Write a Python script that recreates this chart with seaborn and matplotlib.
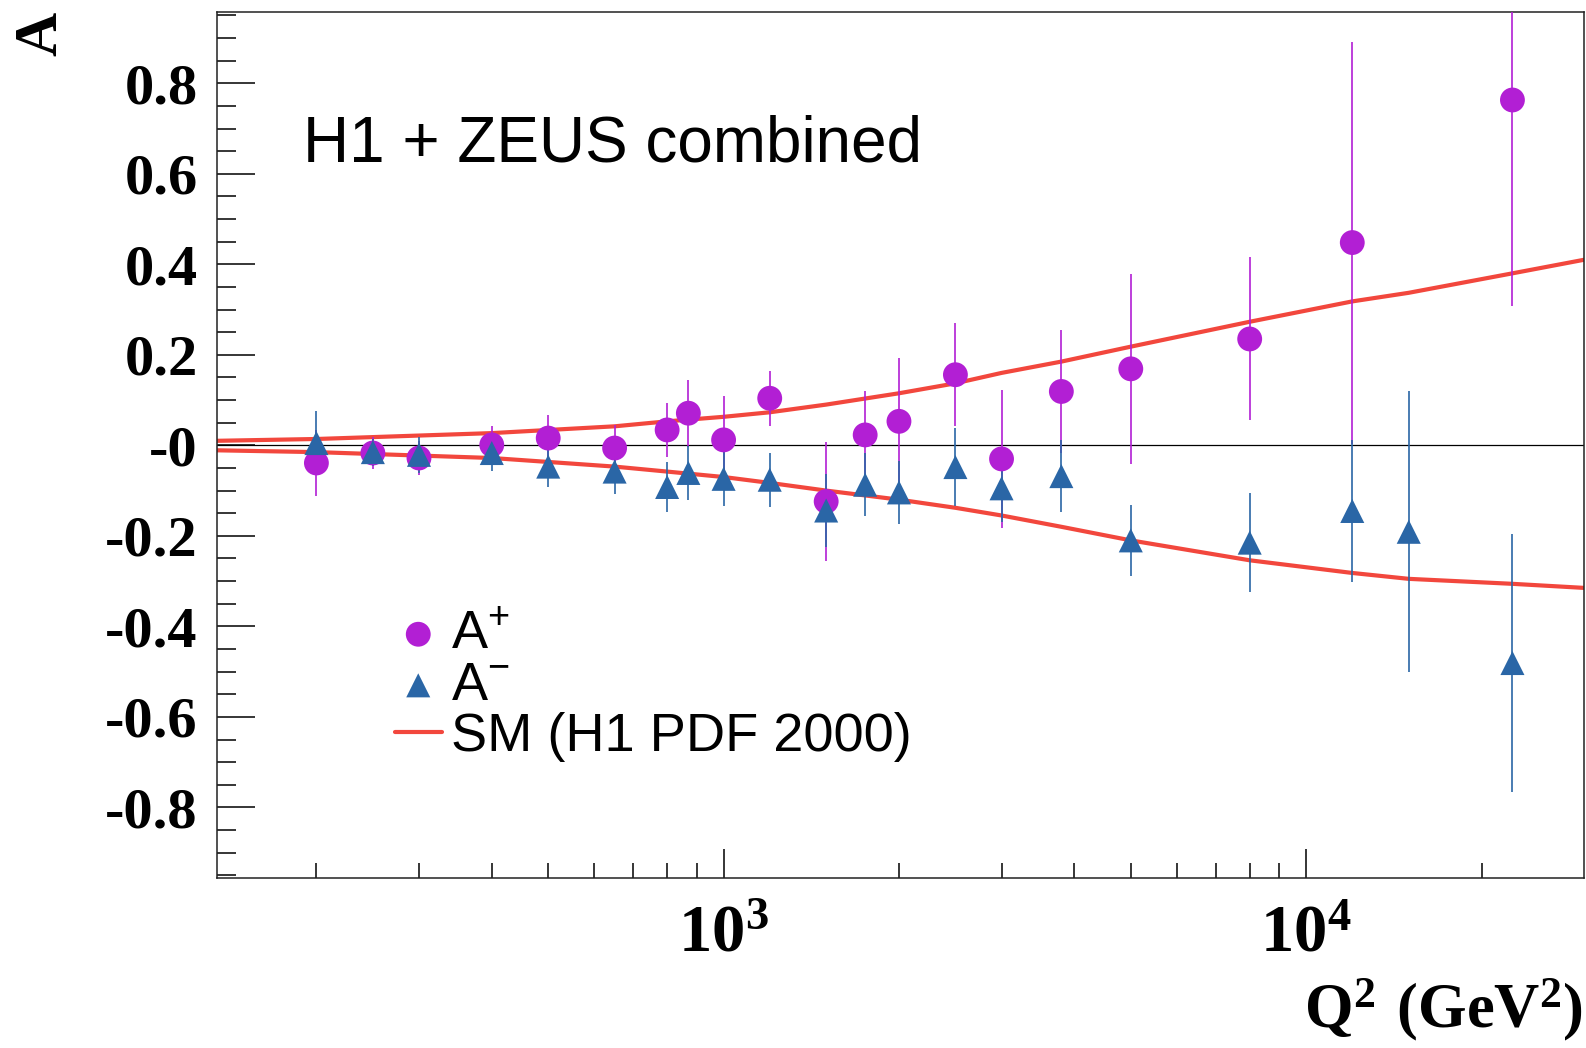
import pandas as pd
import seaborn as sns
import matplotlib.pyplot as plt
from matplotlib.ticker import FixedLocator, NullFormatter

sns.set_style('ticks')
plt.rcParams['font.family'] = ['Liberation Sans', 'DejaVu Sans']
plt.rcParams['mathtext.fontset'] = 'custom'
plt.rcParams['mathtext.rm'] = 'Liberation Serif'
plt.rcParams['mathtext.bf'] = 'Liberation Serif:bold'
plt.rcParams['mathtext.sf'] = 'Liberation Sans'
for key in ['text.color', 'axes.labelcolor', 'xtick.color', 'ytick.color']:
    plt.rcParams[key] = 'black'

# Data
q2_plus = [200, 250, 300, 400, 500, 650, 800, 870, 1000, 1200, 1500, 1750,
           2000, 2500, 3000, 3800, 5000, 8000, 12000, 22600]
a_plus = [-0.039, -0.017, -0.028, 0.001, 0.016, -0.006, 0.034, 0.071, 0.012,
          0.104, -0.124, 0.023, 0.053, 0.156, -0.030, 0.119, 0.169, 0.235,
          0.448, 0.763]
err_plus = [0.073, 0.035, 0.037, 0.042, 0.051, 0.051, 0.060, 0.074, 0.096,
            0.061, 0.132, 0.096, 0.140, 0.114, 0.153, 0.136, 0.210, 0.180,
            0.444, 0.455]

q2_minus = [200, 250, 300, 400, 500, 650, 800, 870, 1000, 1200, 1500, 1750,
            2000, 2500, 3000, 3800, 5000, 8000, 12000, 15000, 22600]
a_minus = [0.005, -0.015, -0.021, -0.017, -0.047, -0.058, -0.092, -0.061,
           -0.074, -0.076, -0.144, -0.087, -0.104, -0.048, -0.095, -0.068,
           -0.210, -0.215, -0.145, -0.191, -0.481]
err_minus = [0.070, 0.030, 0.040, 0.040, 0.045, 0.050, 0.055, 0.060, 0.060,
             0.060, 0.080, 0.070, 0.070, 0.086, 0.075, 0.080, 0.078, 0.110,
             0.157, 0.310, 0.285]

sm_q2 = [135, 200, 400, 650, 800, 1000, 1200, 1500, 2000, 2500, 3000, 3800,
         5000, 8000, 12000, 15000, 22600, 30000]
sm_plus = [0.010, 0.014, 0.027, 0.042, 0.053, 0.063, 0.073, 0.090, 0.115,
           0.137, 0.160, 0.185, 0.218, 0.273, 0.318, 0.337, 0.380, 0.410]
sm_minus = [-0.011, -0.015, -0.028, -0.047, -0.058, -0.070, -0.083, -0.100,
            -0.120, -0.138, -0.155, -0.180, -0.210, -0.254, -0.282, -0.295,
            -0.306, -0.315]

y_ticks = [-0.8, -0.6, -0.4, -0.2, 0.0, 0.2, 0.4, 0.6, 0.8]
y_tick_labels = ['-0.8', '-0.6', '-0.4', '-0.2', '-0', '0.2', '0.4', '0.6', '0.8']
x_ticks = [1000, 10000]
x_tick_labels = [r'$\mathbf{10^{3}}$', r'$\mathbf{10^{4}}$']

purple = '#b21fd4'
blue = '#2a66a6'
red = '#f2473d'

plus = pd.DataFrame({'q2': q2_plus, 'a': a_plus, 'err': err_plus})
minus = pd.DataFrame({'q2': q2_minus, 'a': a_minus, 'err': err_minus})
sm = pd.DataFrame({'q2': sm_q2, 'plus': sm_plus, 'minus': sm_minus})

fig = plt.figure(figsize=(15.86, 10.48), dpi=100)
ax = fig.add_axes([0.1368, 0.1622, 0.8620, 0.8266])
ax.set_xscale('log')

ax.axhline(0, color='black', lw=0.9, zorder=1)

# SM curves
sns.lineplot(data=sm, x='q2', y='plus', color=red, lw=3, ax=ax,
             label='SM (H1 PDF 2000)', zorder=2)
sns.lineplot(data=sm, x='q2', y='minus', color=red, lw=3, ax=ax, zorder=2)

# error bars
ax.errorbar(plus['q2'], plus['a'], yerr=plus['err'], fmt='none',
            ecolor=purple, elinewidth=1.2, zorder=3)
ax.errorbar(minus['q2'], minus['a'], yerr=minus['err'], fmt='none',
            ecolor=blue, elinewidth=1.2, zorder=3)

# markers
sns.scatterplot(data=plus, x='q2', y='a', marker='o', s=320, color=purple,
                edgecolor='none', ax=ax, label=r'A$^{\mathsf{+}}$', zorder=4)
sns.scatterplot(data=minus, x='q2', y='a', marker='^', s=300, color=blue,
                edgecolor='none', ax=ax, label=r'A$^{\mathsf{-}}$', zorder=5)

ax.set_xlim(135, 30000)
ax.set_ylim(-0.956, 0.958)

# axis ticks, ROOT style
ax.set_yticks(y_ticks, y_tick_labels, fontfamily='Liberation Serif',
              fontweight='bold', fontsize=42)
ax.yaxis.set_minor_locator(FixedLocator([i * 0.05 for i in range(-19, 20)]))
ax.set_xticks(x_ticks, x_tick_labels, fontsize=48)
ax.xaxis.set_minor_locator(FixedLocator(
    [200, 300, 400, 500, 600, 700, 800, 900,
     2000, 3000, 4000, 5000, 6000, 7000, 8000, 9000, 20000]))
ax.xaxis.set_minor_formatter(NullFormatter())
ax.tick_params(axis='y', which='major', direction='in', length=27, width=1.1, pad=14)
ax.tick_params(axis='y', which='minor', direction='in', length=14, width=1.1)
ax.tick_params(axis='x', which='major', direction='in', length=21, width=1.1, pad=18)
ax.tick_params(axis='x', which='minor', direction='in', length=11, width=1.1)
for side in ['left', 'right', 'top', 'bottom']:
    ax.spines[side].set_linewidth(1.1)
    ax.spines[side].set_color('#222222')

# labels
ax.set_xlabel(r'$\mathbf{Q^{2}\ (GeV^{2})}$', fontsize=45, ha='right', va='bottom')
ax.xaxis.set_label_coords(0.9995, -0.19)
ax.set_ylabel('A', fontfamily='Liberation Serif', fontweight='bold', fontsize=44)
ax.yaxis.set_label_coords(-0.108, 0.975)

ax.text(0.063, 0.827, 'H1 + ZEUS combined', transform=ax.transAxes,
        fontsize=46, ha='left', va='baseline')

handles, labels = ax.get_legend_handles_labels()
order = [labels.index(r'A$^{\mathsf{+}}$'), labels.index(r'A$^{\mathsf{-}}$'),
         labels.index('SM (H1 PDF 2000)')]
ax.legend([handles[i] for i in order], [labels[i] for i in order],
          loc='upper left', bbox_to_anchor=(0.13, 0.31), frameon=False,
          fontsize=39, handlelength=0.87, handletextpad=0.17, labelspacing=0.02,
          borderpad=0, borderaxespad=0)

fig.savefig('out.png', dpi=100)
